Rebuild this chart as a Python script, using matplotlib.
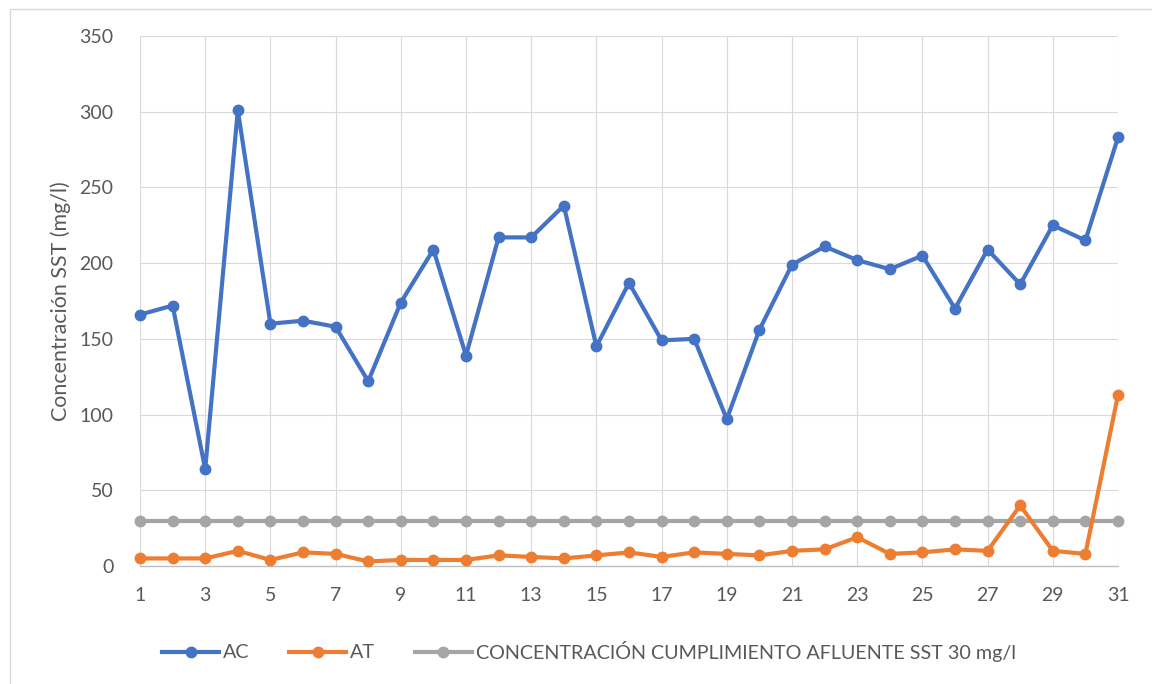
import numpy as np
import matplotlib.pyplot as plt
from matplotlib.patches import Rectangle

plt.rcParams['font.family'] = ['Lato', 'DejaVu Sans']

# Data
dias = list(range(1, 32))
ac = [166, 172, 64, 301, 160, 162, 158, 122, 174, 209,
      139, 217, 217, 238, 145, 187, 149, 150, 97, 156,
      199, 211, 202, 196, 205, 170, 209, 186, 225, 215, 283]
at = [5, 5, 5, 10, 4, 9, 8, 3, 4, 4,
      4, 7, 6, 5, 7, 9, 6, 9, 8, 7,
      10, 11, 19, 8, 9, 11, 10, 40, 10, 8, 113]
limite = [30] * 31

labels = ["AC", "AT", "CONCENTRACIÓN CUMPLIMIENTO AFLUENTE SST 30 mg/l"]
colors = ["#4472C4", "#ED7D31", "#A5A5A5"]
txt = "#595959"

fig = plt.figure(figsize=(11.52, 6.84), dpi=100)
# outer chart frame
fig.patches.append(Rectangle((10 / 1152, -0.1), 1.2, 1 - 9 / 684 + 0.1,
                             transform=fig.transFigure, fill=False,
                             edgecolor="#D9D9D9", linewidth=1))

ax = fig.add_axes([140 / 1152, 1 - 566 / 684, 978 / 1152, 530 / 684])

# draw grey line first, then orange, then blue on top
series = [(limite, 2), (at, 1), (ac, 0)]
for vals, k in series:
    ax.plot(dias, vals, color=colors[k], linewidth=3, marker="o",
            markersize=7.5, label=labels[k], clip_on=False, zorder=3 + (2 - k))

ax.set_xlim(1, 31)
ax.set_ylim(0, 350)
ax.set_xticks(range(1, 32, 2))
ax.set_yticks(range(0, 351, 50))
ax.grid(True, color="#D9D9D9", linewidth=0.8)
ax.set_axisbelow(True)
for s in ["top", "right", "left"]:
    ax.spines[s].set_visible(False)
ax.spines["bottom"].set_color("#BFBFBF")
ax.spines["bottom"].set_linewidth(1)
ax.tick_params(length=0, labelsize=14, colors=txt)
ax.tick_params(axis="x", pad=15)
ax.tick_params(axis="y", pad=19)
ax.set_ylabel("Concentración SST (mg/l)", fontsize=15.4, color=txt, labelpad=6)

handles, labs = ax.get_legend_handles_labels()
order = [2, 1, 0]
fig.legend([handles[i] for i in order], [labs[i] for i in order],
           loc="center", bbox_to_anchor=(589 / 1152, 1 - 651 / 684), ncol=3,
           frameon=False, fontsize=14.2, labelcolor=txt, handlelength=2.9,
           handletextpad=0.2, columnspacing=2.0)

fig.savefig("out.png", dpi=100)
